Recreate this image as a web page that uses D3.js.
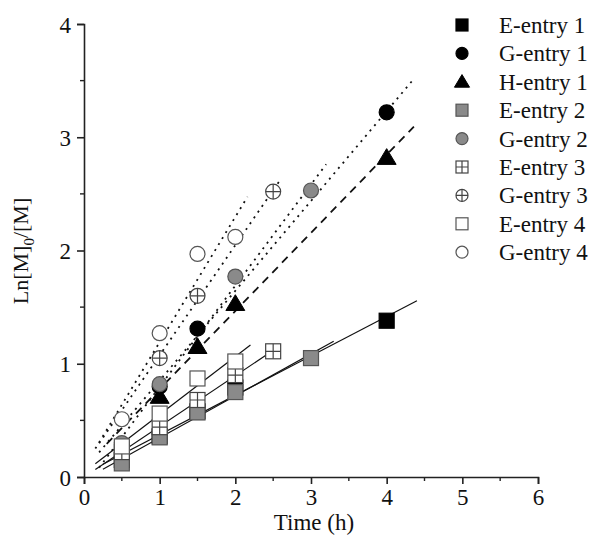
<!DOCTYPE html>
<html>
<head>
<meta charset="utf-8">
<script src="https://cdn.jsdelivr.net/npm/d3@7"></script>
<style>
  body { margin: 0; background: #fff; }
  svg text { font-family: "Liberation Serif", "DejaVu Serif", serif; fill: #111; }
</style>
</head>
<body>
<svg id="chart" width="595" height="545"></svg>
<script>
// series names, in legend order
const seriesNames = ['E-entry 1', 'G-entry 1', 'H-entry 1', 'E-entry 2', 'G-entry 2',
                     'E-entry 3', 'G-entry 3', 'E-entry 4', 'G-entry 4'];

// points [time (h), Ln[M]0/[M]]
const eEntry1 = [[0.5, 0.15], [1, 0.36], [1.5, 0.58], [2, 0.79], [4, 1.38]];
const gEntry1 = [[1, 0.8], [1.5, 1.31], [4, 3.22]];
const hEntry1 = [[1, 0.71], [1.5, 1.15], [2, 1.53], [4, 2.82]];
const eEntry2 = [[0.5, 0.12], [1, 0.35], [1.5, 0.57], [2, 0.75], [3, 1.05]];
const gEntry2 = [[0.5, 0.3], [1, 0.82], [2, 1.77], [3, 2.53]];
const eEntry3 = [[0.5, 0.22], [1, 0.44], [1.5, 0.68], [2, 0.9], [2.5, 1.11]];
const gEntry3 = [[1, 1.05], [1.5, 1.6], [2.5, 2.52]];
const eEntry4 = [[0.5, 0.27], [1, 0.56], [1.5, 0.87], [2, 1.02]];
const gEntry4 = [[0.5, 0.51], [1, 1.27], [1.5, 1.97], [2, 2.12]];

// time span covered by each fitted line
const fitRanges = [[0.25, 4.4], [0.2, 4.36], [0.3, 4.36], [0.25, 3.3], [0.2, 3.2],
                   [0.15, 2.6], [0.2, 2.6], [0.15, 2.2], [0.15, 2.16]];

const xTicks = [0, 1, 2, 3, 4, 5, 6];
const yTicks = [0, 1, 2, 3, 4];

const allData = [eEntry1, gEntry1, hEntry1, eEntry2, gEntry2, eEntry3, gEntry3, eEntry4, gEntry4];

// marker style per series
const styles = [
  { shape: 'square', fill: '#000', stroke: '#000', line: null },
  { shape: 'circle', fill: '#000', stroke: '#000', line: '2,5' },
  { shape: 'triangle', fill: '#000', stroke: '#000', line: '8,6' },
  { shape: 'square', fill: '#8a8a8a', stroke: '#555', line: null },
  { shape: 'circle', fill: '#8a8a8a', stroke: '#555', line: '2,5' },
  { shape: 'squareplus', fill: '#fff', stroke: '#444', line: null },
  { shape: 'circleplus', fill: '#fff', stroke: '#444', line: '2,5' },
  { shape: 'square', fill: '#fff', stroke: '#555', line: null },
  { shape: 'circle', fill: '#fff', stroke: '#555', line: '2,5' }
];

const svg = d3.select('#chart');
const x = d3.scaleLinear().domain([0, 6]).range([84, 538]);
const y = d3.scaleLinear().domain([0, 4]).range([477, 24]);

// axes
const xAxis = d3.axisBottom(x).tickValues(xTicks).tickSize(7).tickPadding(5).tickFormat(d3.format('d'));
const yAxis = d3.axisLeft(y).tickValues(yTicks).tickSize(7).tickPadding(6).tickFormat(d3.format('d'));

const gx = svg.append('g').attr('transform', `translate(0,${y(0)})`).call(xAxis);
const gy = svg.append('g').attr('transform', `translate(${x(0)},0)`).call(yAxis);
[gx, gy].forEach(g => {
  g.attr('font-size', 23).attr('font-family', '"Liberation Serif", serif');
  g.select('.domain').attr('stroke', '#222').attr('stroke-width', 1.6);
  g.selectAll('.tick line').attr('stroke', '#222').attr('stroke-width', 1.6);
  g.selectAll('.tick text').attr('font-size', 23).attr('fill', '#111');
});
gy.selectAll('.tick text').attr('dy', '0.35em');

// minor ticks
const xMinor = d3.range(0.5, 6, 1);
const yMinor = d3.range(0.5, 4, 1);
svg.append('g').selectAll('line').data(xMinor).enter().append('line')
  .attr('x1', d => x(d)).attr('x2', d => x(d))
  .attr('y1', y(0)).attr('y2', y(0) + 4)
  .attr('stroke', '#222').attr('stroke-width', 1.4);
svg.append('g').selectAll('line').data(yMinor).enter().append('line')
  .attr('x1', x(0) - 4).attr('x2', x(0))
  .attr('y1', d => y(d)).attr('y2', d => y(d))
  .attr('stroke', '#222').attr('stroke-width', 1.4);

// axis titles
svg.append('text').attr('x', 314).attr('y', 530)
  .attr('text-anchor', 'middle').attr('font-size', 23).text('Time (h)');
const yt = svg.append('text')
  .attr('transform', 'translate(28,251) rotate(-90)')
  .attr('text-anchor', 'middle').attr('font-size', 22);
yt.append('tspan').text('Ln[M]');
yt.append('tspan').attr('dy', 6).attr('font-size', 15).text('0');
yt.append('tspan').attr('dy', -6).text('/[M]');

// least squares fit
const fit = pts => {
  const mx = d3.mean(pts, p => p[0]);
  const my = d3.mean(pts, p => p[1]);
  const sxy = d3.sum(pts, p => (p[0] - mx) * (p[1] - my));
  const sxx = d3.sum(pts, p => (p[0] - mx) ** 2);
  const b = sxy / sxx;
  return { b, a: my - b * mx };
};

const lineG = svg.append('g');
allData.forEach((pts, i) => {
  const { a, b } = fit(pts);
  const [x0, x1] = fitRanges[i];
  const st = styles[i];
  lineG.append('line')
    .attr('x1', x(x0)).attr('y1', y(a + b * x0))
    .attr('x2', x(x1)).attr('y2', y(a + b * x1))
    .attr('stroke', '#111')
    .attr('stroke-width', st.line ? 1.8 : 1.2)
    .attr('stroke-dasharray', st.line);
});

// marker drawing
const drawMarker = (g, shape, cx, cy, r, fill, stroke) => {
  if (shape === 'square' || shape === 'squareplus') {
    g.append('rect').attr('x', cx - r).attr('y', cy - r).attr('width', 2 * r).attr('height', 2 * r)
      .attr('fill', fill).attr('stroke', stroke).attr('stroke-width', 1.2);
  } else if (shape === 'circle' || shape === 'circleplus') {
    g.append('circle').attr('cx', cx).attr('cy', cy).attr('r', r)
      .attr('fill', fill).attr('stroke', stroke).attr('stroke-width', 1.2);
  } else if (shape === 'triangle') {
    const s = r * 1.2;
    g.append('path')
      .attr('d', `M${cx},${cy - s}L${cx + s * 1.05},${cy + s * 0.75}L${cx - s * 1.05},${cy + s * 0.75}Z`)
      .attr('fill', fill).attr('stroke', stroke);
  }
  if (shape === 'squareplus' || shape === 'circleplus') {
    g.append('path')
      .attr('d', `M${cx - r},${cy}H${cx + r}M${cx},${cy - r}V${cy + r}`)
      .attr('stroke', stroke).attr('stroke-width', 1.2);
  }
};

const markG = svg.append('g');
allData.forEach((pts, i) => {
  const st = styles[i];
  pts.forEach(p => drawMarker(markG, st.shape, x(p[0]), y(p[1]), 7.5, st.fill, st.stroke));
});

// legend
const legend = svg.append('g').attr('font-size', 23);
seriesNames.forEach((name, i) => {
  const cy = 25 + i * 28.4;
  const st = styles[i];
  drawMarker(legend, st.shape, 462, cy, 6, st.fill, st.stroke);
  legend.append('text').attr('x', 499).attr('y', cy).attr('dy', '0.35em')
    .attr('font-size', 23).text(name);
});
</script>
</body>
</html>
